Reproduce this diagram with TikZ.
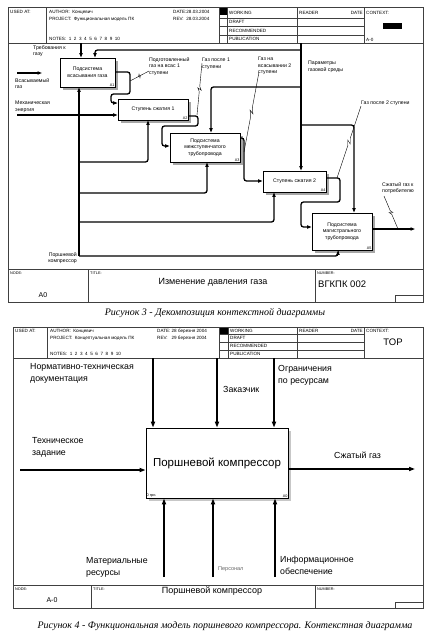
\documentclass[tikz,border=0pt]{standalone}
\usepackage{fontspec}
\setmainfont{Liberation Sans}
\newfontfamily\capfont{Liberation Serif}
\usetikzlibrary{positioning,arrows.meta,calc,shadows}

\newcommand\fs[2]{\fontsize{#1}{#2}\selectfont}
% squiggle leader from a label to its arrow
\newcommand\squig[2]{%
  \draw[leader] (#1) -- ($(#1)!.45!(#2)$) -- ($(#1)!.52!(#2)!1.8pt!90:(#2)$)
    -- ($(#1)!.48!(#2)!1.8pt!-90:(#2)$) -- ($(#1)!.55!(#2)$) -- (#2);}

\tikzset{
  frm/.style={draw=black!75, line width=0.5pt},
  hd/.style={font=\fs{4.6}{5}, inner sep=0pt, anchor=west},
  act/.style={draw, line width=0.8pt, fill=white, align=center, inner sep=0pt,
    font=\fs{5.2}{6.6},
    drop shadow={shadow xshift=2.5pt, shadow yshift=-2.5pt, fill=black!35, opacity=1}},
  boxid/.style={font=\fs{3.8}{4}, inner sep=0.8pt, anchor=south east},
  flow/.style={line width=1.3pt, rounded corners=2.5pt, -{Triangle[length=4.5pt,width=3.2pt]}},
  lbl/.style={font=\fs{5.2}{6.5}, inner sep=0pt, align=left},
  leader/.style={line width=0.4pt},
  bigflow/.style={line width=1.5pt, -{Triangle[length=6pt,width=4pt]}},
  biglbl/.style={font=\fs{8.8}{12}, inner sep=0pt, align=left},
}

\begin{document}
\begin{tikzpicture}[x=1pt,y=-1pt]
\useasboundingbox (0,0) rectangle (430,632);

% ===== A0 frame
\draw[frm] (8,7) rectangle (423,302);
\draw[frm] (8,43) -- (423,43);
\draw[frm] (8,269) -- (423,269);
\draw[frm] (46,7) -- (46,43) (219,7) -- (219,43) (227,7) -- (227,43)
  (297,7) -- (297,43) (364,7) -- (364,43);
\draw[frm] (219,18) -- (364,18) (219,26.5) -- (364,26.5) (219,35) -- (364,35);
\fill (219.5,7.5) rectangle (227,15);
\fill (383,23) rectangle (402,29);
\draw[frm] (88,269) -- (88,302) (315,269) -- (315,302);
\draw[frm] (395,302) |- (423,295);

\node[hd] (used1) at (10,12) {USED AT:};
\node[hd] (auth1) at (49,12) {AUTHOR:\ \ Концевич};
\node[hd] (proj1) at (49,19) {PROJECT:\ \ Функциональная модель ПК};
\node[hd] (note1) at (49,39) {NOTES:\ \ 1\ \ 2\ \ 3\ \ 4\ \ 5\ \ 6\ \ 7\ \ 8\ \ 9\ \ 10};
\node[hd] (date1) at (173,12) {DATE:28.03.2004};
\node[hd] (rev1) at (173,19) {REV:\ \ 28.03.2004};
\node[hd] (wrk1) at (229,12.5) {WORKING};
\node[hd] (drf1) at (229,22) {DRAFT};
\node[hd] (rec1) at (229,31) {RECOMMENDED};
\node[hd] (pub1) at (229,39) {PUBLICATION};
\node[hd] (rdr1) at (299,12.5) {READER};
\node[hd, anchor=east] (rdt1) at (363,12.5) {DATE};
\node[hd] (ctx1) at (366,12.5) {CONTEXT:};
\node[hd] (par1) at (366,39.5) {A-0};
\node[hd, font=\fs{3.8}{4}] (nod1) at (10,273) {NODE:};
\node[hd, font=\fs{3.8}{4}] (tit1) at (90,273) {TITLE:};
\node[hd, font=\fs{3.8}{4}] (num1) at (317,273) {NUMBER:};
\node[font=\fs{7}{8}, inner sep=0pt] (nodev1) at (43,295) {A0};
\node[font=\fs{9}{10}, inner sep=0pt] (titv1) at (213,282) {Изменение давления газа};
\node[hd, font=\fs{9.5}{10}] (numv1) at (318,284) {ВГКПК 002};

% ----- activities
\node[act, minimum width=55pt, minimum height=29pt] (a1) at (87.5,72.5) {Подсистема\\всасывания газа};
\node[act, minimum width=70pt, minimum height=21pt] (a2) at (153,109.5) {Ступень сжатия 1};
\node[act, minimum width=70pt, minimum height=29pt] (a3) at (205,147.5) {Подсистема\\межступенчатого\\трубопровода};
\node[act, minimum width=63pt, minimum height=21pt] (a4) at (294.5,181.5) {Ступень сжатия 2};
\node[act, minimum width=60pt, minimum height=37pt] (a5) at (342,231.5) {Подсистема\\магистрального\\трубопровода};
\node[boxid] (a1id) at (a1.south east) {A1};
\node[boxid] (a2id) at (a2.south east) {A2};
\node[boxid] (a3id) at (a3.south east) {A3};
\node[boxid] (a4id) at (a4.south east) {A4};
\node[boxid] (a5id) at (a5.south east) {A5};

% ----- free ends
\coordinate (req) at (81,43);
\coordinate (gasin) at (17,73);
\coordinate (gasend) at (42,73);
\coordinate (energy) at (17,115);
\coordinate (env) at (301,43);
\coordinate (mech) at (79,256);
\coordinate (gasout) at (415,229);

% ----- controls
\draw[flow] (req) -- (a1.north -| req);
\draw[flow] (env) -- (a4.north -| env);
\draw[flow] (env |- 0,50) -| (a1.north -| 95,0);
\draw[flow] (env |- 0,87) -| (a3.north -| 211,0);
\draw[flow] (env |- 0,125) -| (a5.north -| 354,0);

% ----- inputs and outputs
\draw[flow] (gasin) -- (gasend);
\draw[flow] (energy) -- (a2.west |- energy);
\draw[flow] (a1.east |- 0,72) -- (130,72) -- (130,94) -- (111,94) -- (111,103) -- (a2.west |- 0,103);
\draw[flow] (a2.east |- 0,116) -- (198,116) -- (198,126) -- (162,126) -- (162,146) -- (a3.west |- 0,146);
\draw[flow] (a3.east |- 0,138) -- (244,138) -- (244,181) -- (a4.west |- 0,181);
\draw[flow] (a4.east |- 0,178) -- (340,178) -- (340,202) -- (301,202) -- (301,227) -- (a5.west |- 0,227);
\draw[flow] (a5.east |- gasout) -- (gasout);

% ----- mechanisms
\draw[flow] (mech) -- (a1.south -| mech);
\draw[flow] (mech |- 0,162) -| (a2.south -| 148,0);
\draw[flow] (mech |- 0,193) -| (a3.south -| 207,0);
\draw[flow] (mech |- 0,222) -| (a4.south -| 274,0);
\draw[flow] (mech) -| (a5.south -| 338,0);

% ----- labels
\node[lbl, anchor=north west] (lreq) at (33,45) {Требования к\\газу};
\node[lbl, anchor=north west] (lgas) at (15,78) {Всасываемый\\газ};
\node[lbl, anchor=north west] (leng) at (15,101) {Механическая\\энергия};
\node[lbl, anchor=north west] (lprep) at (149,57) {Подготовленный\\газ на всас 1\\ступени};
\node[lbl, anchor=north west] (lg1) at (202,58) {Газ после 1\\ступени};
\node[lbl, anchor=north west] (lg2in) at (258,57) {Газ на\\всасывании 2\\ступени};
\node[lbl, anchor=north west] (lenv) at (308,61) {Параметры\\газовой среды};
\node[lbl, anchor=west] (lg2) at (361,103) {Газ после 2 ступени};
\node[lbl, anchor=north west] (lout) at (382,182) {Сжатый газ к\\потребителю};
\node[lbl, anchor=north east, align=right] (lmech) at (77,252) {Поршневой\\компрессор};

\coordinate (p1) at (130,81);
\coordinate (p2) at (197,115);
\coordinate (p3) at (244,152);
\coordinate (p4) at (337,178);
\coordinate (p5) at (398,229);
\squig{149,71}{p1}
\squig{202,63}{p2}
\squig{259,72}{p3}
\squig{361,106}{p4}
\squig{384,196}{p5}

\node[font=\capfont\itshape\fs{10}{12}, inner sep=0pt] (cap1) at (215,313) {Рисунок 3 - Декомпозиция контекстной диаграммы};

% ===== A-0 frame
\draw[frm] (13,327) rectangle (423,608);
\draw[frm] (13,358) -- (423,358);
\draw[frm] (13,585) -- (423,585);
\draw[frm] (47,327) -- (47,358) (219,327) -- (219,358) (228,327) -- (228,358)
  (297,327) -- (297,358) (364,327) -- (364,358);
\draw[frm] (219,334.5) -- (364,334.5) (219,342) -- (364,342) (219,350) -- (364,350);
\fill (219.5,327.5) rectangle (228,333.5);
\draw[frm] (91,585) -- (91,608) (315,585) -- (315,608);
\draw[frm] (395,608) |- (423,602);

\node[hd] (used2) at (15,331) {USED AT:};
\node[hd] (auth2) at (50,331) {AUTHOR:\ \ Концевич};
\node[hd] (proj2) at (50,338.5) {PROJECT:\ \ Концептуальная модель ПК};
\node[hd] (note2) at (50,354) {NOTES:\ \ 1\ \ 2\ \ 3\ \ 4\ \ 5\ \ 6\ \ 7\ \ 8\ \ 9\ \ 10};
\node[hd] (date2) at (157,331) {DATE:\ 28 березня 2004};
\node[hd] (rev2) at (157,338.5) {REV:\ \ \ 29 березня 2004};
\node[hd] (wrk2) at (230,331) {WORKING};
\node[hd] (drf2) at (230,338.3) {DRAFT};
\node[hd] (rec2) at (230,346) {RECOMMENDED};
\node[hd] (pub2) at (230,354) {PUBLICATION};
\node[hd] (rdr2) at (299,331) {READER};
\node[hd, anchor=east] (rdt2) at (363,331) {DATE};
\node[hd] (ctx2) at (366,331) {CONTEXT:};
\node[font=\fs{9.5}{10}, inner sep=0pt] (top2) at (393,342) {TOP};
\node[hd, font=\fs{3.8}{4}] (nod2) at (15,589) {NODE:};
\node[hd, font=\fs{3.8}{4}] (tit2) at (93,589) {TITLE:};
\node[hd, font=\fs{3.8}{4}] (num2) at (317,589) {NUMBER:};
\node[font=\fs{7}{8}, inner sep=0pt] (nodev2) at (52,600) {A-0};
\node[font=\fs{9}{10}, inner sep=0pt] (titv2) at (212,591) {Поршневой компрессор};

\node[act, font=\fs{11.5}{13}, minimum width=142pt, minimum height=70pt,
  drop shadow={shadow xshift=2.5pt, shadow yshift=-2.5pt, fill=black!22, opacity=1}]
  (d0) at (217,463) {Поршневой компрессор};
\node[boxid, anchor=south west] (d0cost) at (d0.south west) {0 грн.};
\node[boxid] (d0id) at (d0.south east) {A0};

\coordinate (k1) at (153,358);
\coordinate (k2) at (217,358);
\coordinate (k3) at (274,358);
\coordinate (tz) at (20,470);
\coordinate (cg) at (415,469);
\coordinate (m1) at (164,577);
\coordinate (m2) at (213,577);
\coordinate (m3) at (275,577);
\draw[bigflow] (k1) -- (d0.north -| k1);
\draw[bigflow] (k2) -- (d0.north -| k2);
\draw[bigflow] (k3) -- (d0.north -| k3);
\draw[bigflow] (tz) -- (d0.west |- tz);
\draw[bigflow] (d0.east |- cg) -- (cg);
\draw[bigflow] (m1) -- (d0.south -| m1);
\draw[bigflow] (m2) -- (d0.south -| m2);
\draw[bigflow] (m3) -- (d0.south -| m3);

\node[biglbl, anchor=north west] (lntd) at (30,363) {Нормативно-техническая\\документация};
\node[biglbl, anchor=north west] (lcust) at (223,386) {Заказчик};
\node[biglbl, anchor=north west] (lres) at (278,365) {Ограничения\\по ресурсам};
\node[biglbl, anchor=north west] (ltz) at (32,437) {Техническое\\задание};
\node[biglbl, anchor=west] (lcg) at (334,455) {Сжатый газ};
\node[biglbl, anchor=north west] (lmat) at (86,557) {Материальные\\ресурсы};
\node[lbl, anchor=west, text=black!60, font=\fs{5.5}{6}] (lper) at (218,569) {Персонал};
\node[biglbl, anchor=north west] (linf) at (280,556) {Информационное\\обеспечение};

\node[font=\capfont\itshape\fs{10}{12}, inner sep=0pt] (cap2) at (225,626) {Рисунок 4 - Функциональная модель поршневого компрессора. Контекстная диаграмма};
\end{tikzpicture}
\end{document}
